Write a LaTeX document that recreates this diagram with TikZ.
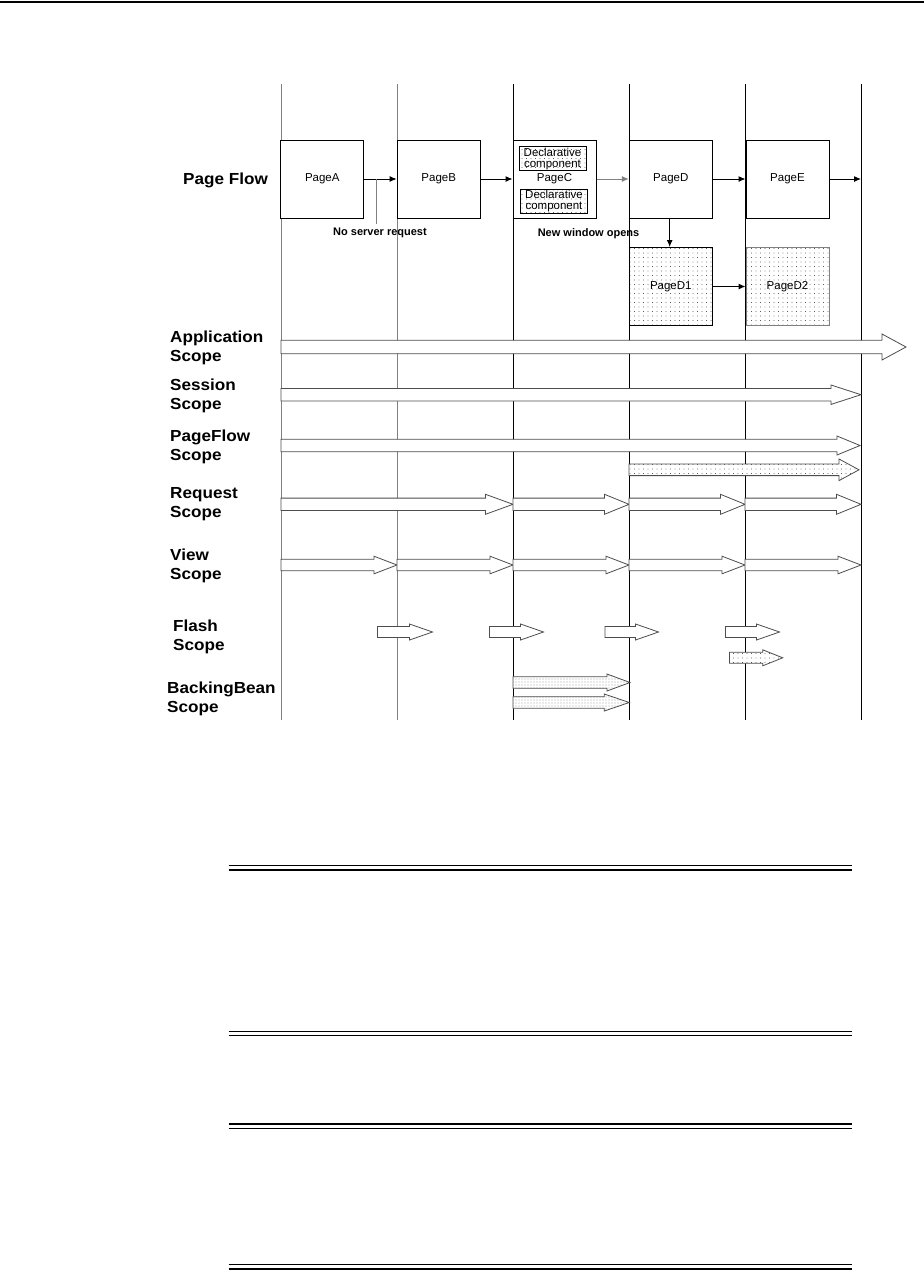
\documentclass[tikz,border=0pt]{standalone}
\usepackage{fontspec}
\setmainfont{Liberation Sans}
\newfontfamily\sclabelfont[FakeStretch=1.07]{Liberation Sans}
\usetikzlibrary{arrows.meta,positioning,patterns.meta}
\definecolor{scInk}{HTML}{000000}
\definecolor{scGray}{HTML}{808080}
\definecolor{scEdge}{HTML}{4D4D4D}
\tikzset{
  every picture/.style={font=\fontsize{11.5}{13}\selectfont, text=scInk},
  sc lane/.style={draw=scInk, line width=0.9pt},
  sc lane gray/.style={sc lane, draw=scGray},
  sc page/.style={draw=scInk, line width=1pt, fill=white,
    minimum width=83pt, minimum height=78pt, inner sep=0pt},
  sc dots/.style={preaction={fill=white},
    pattern={Dots[distance=4.5pt,radius=0.45pt]}, pattern color=scInk},
  sc comp/.style={draw=scInk, line width=0.8pt, sc dots, align=center,
    minimum width=67pt, minimum height=24pt, inner sep=0pt,
    font=\fontsize{11.5}{11}\selectfont},
  sc flow/.style={-{Latex[length=7pt,width=6pt]}, draw=scInk, line width=1pt},
  sc note/.style={font=\bfseries\fontsize{11}{13}\selectfont},
  sc scope/.style={font=\sclabelfont\bfseries\fontsize{16}{19}\selectfont,
    align=left, anchor=west, inner sep=0pt},
  sc block/.style={draw=scEdge, line width=0.8pt, fill=white, line join=miter},
  sc block dots/.style={sc block, sc dots},
  sc block dense/.style={sc block, preaction={fill=white},
    pattern={Dots[distance=3pt,radius=0.45pt]}, pattern color=scInk},
  sc rule/.style={draw=scInk, line width=1.3pt}
}
% [style]{x start}{x tip}{y}{half shaft}{half head}{head length}
\newcommand{\scarrow}[7][sc block]{%
  \filldraw[#1] (#2,#4-#5) -- (#3-#7,#4-#5) -- (#3-#7,#4-#6) -- (#3,#4)
    -- (#3-#7,#4+#6) -- (#3-#7,#4+#5) -- (#2,#4+#5) -- cycle;}

\begin{document}
\begin{tikzpicture}[x=1pt,y=-1pt]
  \useasboundingbox (0,0) rectangle (924,1270);
  \draw[sc rule,line width=1.5pt] (0,2) -- (924,2);

  \foreach \x in {281,397} \draw[sc lane gray] (\x,84) -- (\x,720);
  \foreach \x in {513,629,745,861} \draw[sc lane] (\x,84) -- (\x,720);

  \node[sc scope] (flowLbl) at (183,180) {Page Flow};
  \node[sc page] (pageA) at (322.3,179) {PageA};
  \node[sc page] (pageB) at (438.7,179) {PageB};
  \node[sc page] (pageC) at (554.5,179) {PageC};
  \node[sc comp] (compTop) at (552.5,158.7) {Declarative\\component};
  \node[sc comp] (compBot) at (554,201.5) {Declarative\\component};
  \node[sc page] (pageD) at (670.8,179) {PageD};
  \node[sc page] (pageE) at (787.5,179) {PageE};
  \node[sc page,sc dots] (pageD1) at (670.8,286.5) {PageD1};
  \node[sc page,sc dots,draw=scGray] (pageD2) at (787.5,286.5) {PageD2};
  \coordinate (flowEnd) at (861,179);

  \draw[sc flow] (pageA.east) -- (pageB.west);
  \draw[sc flow] (pageB.east) -- (pageC.west);
  \draw[sc flow,draw=scGray] (pageC.east) -- (pageD.west);
  \draw[sc flow] (pageD.east) -- (pageE.west);
  \draw[sc flow] (pageE.east) -- (flowEnd);
  \draw[sc flow] (pageD.south -| 669.7,0) -- (pageD1.north -| 669.7,0);
  \draw[sc flow] (pageD1.east) -- (pageD2.west);

  \coordinate (nsrTop) at (376.7,179);
  \coordinate (nsrEnd) at (376.7,224);
  \draw[sc lane gray] (nsrTop) -- (nsrEnd);
  \node[sc note] (nsr) at (380,233) {No server request};
  \node[sc note] (nwo) at (588.5,234) {New window opens};

  \node[sc scope] (appLbl) at (170,348) {Application\\Scope};
  \node[sc scope] (sesLbl) at (170,395.5) {Session\\Scope};
  \node[sc scope] (pflLbl) at (170,446.5) {PageFlow\\Scope};
  \node[sc scope] (reqLbl) at (170,504.5) {Request\\Scope};
  \node[sc scope] (viewLbl) at (170,566) {View\\Scope};
  \node[sc scope] (flashLbl) at (173,637) {Flash\\Scope};
  \node[sc scope] (beanLbl) at (167,699) {BackingBean\\Scope};

  \scarrow{281}{906}{347}{6.7}{13}{24}
  \scarrow{281}{861}{394.7}{6.3}{9.7}{30}
  \scarrow{281}{860}{445.5}{6.2}{9.5}{23}
  \scarrow[sc block dots]{629}{859}{469.8}{5.8}{10.8}{20}
  \scarrow{281}{513}{504.3}{6.2}{10}{27.5}
  \foreach \a/\b in {513/629,629/745,745/861}
    {\scarrow{\a}{\b}{504.3}{6.2}{10}{24.5}}
  \foreach \a/\b in {281/397,397/513,513/629,629/745,745/861}
    {\scarrow{\a}{\b}{565}{5.7}{8.8}{23}}
  \foreach \a/\b in {377.5/432.5,489.5/543.5,605/658.5,725.5/779.5}
    {\scarrow{\a}{\b}{632}{5.5}{8}{23}}
  \scarrow[sc block dots]{729.5}{782.7}{657.8}{5.5}{8}{20}
  \scarrow[sc block dense]{513}{630}{682.5}{5.8}{8.5}{23}
  \scarrow[sc block dense]{513}{629.3}{702.5}{5.8}{8.5}{25}

  \foreach \y in {865.5,870,1031.5,1035.5,1124,1128.5,1264.5,1269}
    \draw[sc rule] (228.5,\y) -- (851.5,\y);
\end{tikzpicture}
\end{document}
